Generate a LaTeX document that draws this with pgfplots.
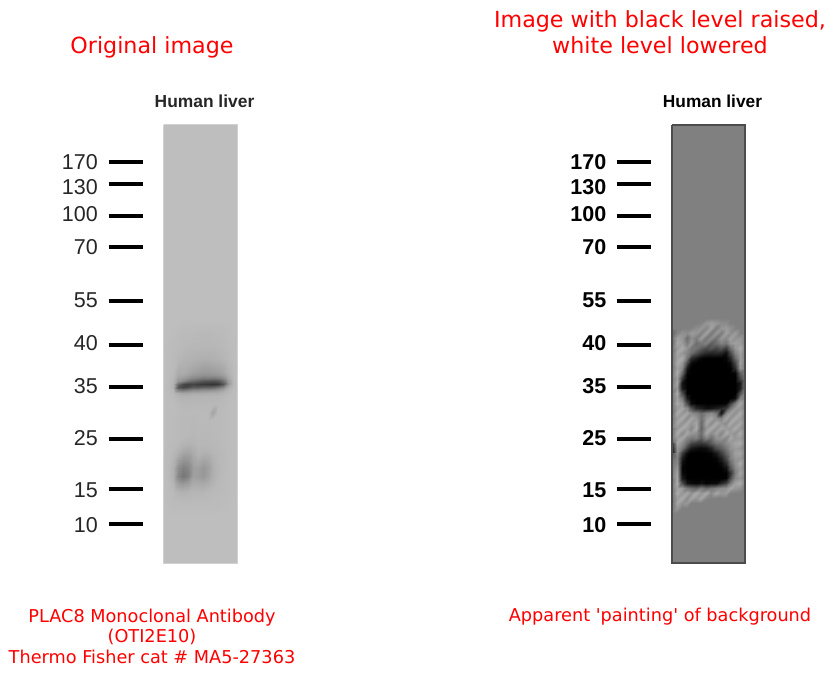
\documentclass[border=0pt]{standalone}
\usepackage{pgfplots}
\usepackage{pgfplotstable}
\pgfplotsset{compat=1.18}
\usepackage{fontspec}
\setmainfont{DejaVu Sans}
\newfontfamily\plainf{DejaVu Sans}
\newfontfamily\lab{Liberation Sans}
\definecolor{lanel}{HTML}{BEBEBE}
\definecolor{laner}{HTML}{808080}
\definecolor{treat}{HTML}{FF0000}
\pgfplotstableread{
y ly label
162 162 170
184 187 130
216 214 100
247 247 70
301 300 55
345 343 40
387 386 35
439 438 25
489 490 15
524 525 10
}\markers
\pgfplotstableread[row sep=crcr,header=false]{
190\\190\\190\\190\\190\\190\\190\\190\\190\\190\\190\\190\\190\\190\\190\\190\\
190\\190\\189\\187\\186\\186\\186\\185\\185\\184\\185\\186\\186\\188\\190\\190\\
189\\188\\187\\186\\185\\184\\183\\183\\183\\183\\183\\184\\185\\187\\189\\190\\
189\\188\\186\\183\\180\\178\\177\\176\\175\\175\\176\\178\\181\\185\\188\\190\\
189\\188\\185\\172\\172\\168\\162\\158\\155\\155\\157\\160\\166\\178\\186\\190\\
}\gridLa
\pgfplotstableread[row sep=crcr,header=false]{
189\\188\\185\\172\\172\\168\\162\\158\\155\\155\\157\\160\\166\\178\\186\\190\\
189\\188\\184\\168\\166\\160\\152\\148\\146\\145\\146\\150\\158\\174\\185\\190\\
189\\187\\183\\160\\155\\145\\135\\130\\122\\125\\122\\128\\140\\168\\184\\190\\
189\\187\\180\\150\\135\\115\\105\\95\\85\\82\\80\\85\\110\\155\\183\\190\\
189\\187\\178\\105\\75\\65\\68\\62\\58\\55\\52\\58\\85\\150\\183\\190\\
189\\187\\178\\85\\68\\75\\90\\88\\95\\95\\100\\112\\135\\170\\185\\190\\
189\\187\\182\\130\\120\\130\\140\\140\\145\\145\\150\\155\\165\\180\\187\\190\\
189\\188\\185\\172\\165\\165\\170\\170\\170\\172\\172\\174\\178\\184\\188\\190\\
189\\188\\187\\181\\178\\178\\180\\180\\180\\181\\181\\182\\184\\187\\189\\190\\
}\gridLb
\pgfplotstableread[row sep=crcr,header=false]{
189\\188\\187\\181\\178\\178\\180\\180\\180\\181\\181\\182\\184\\187\\189\\190\\
189\\188\\188\\186\\184\\184\\184\\184\\184\\184\\184\\185\\186\\188\\189\\190\\
189\\188\\188\\187\\186\\186\\186\\186\\186\\186\\165\\186\\187\\188\\189\\190\\
189\\188\\187\\186\\185\\185\\184\\186\\185\\185\\186\\186\\187\\188\\189\\190\\
189\\188\\187\\186\\185\\185\\184\\185\\185\\185\\186\\186\\187\\188\\189\\190\\
189\\188\\187\\186\\185\\184\\183\\185\\184\\184\\185\\186\\187\\188\\189\\190\\
189\\187\\186\\184\\180\\178\\180\\183\\183\\183\\184\\185\\187\\188\\189\\190\\
188\\187\\184\\176\\168\\165\\172\\180\\178\\178\\182\\184\\186\\188\\189\\190\\
189\\186\\180\\160\\148\\150\\165\\172\\165\\168\\178\\183\\186\\188\\189\\190\\
189\\186\\176\\142\\128\\135\\158\\160\\152\\160\\175\\182\\186\\188\\189\\190\\
189\\186\\176\\135\\118\\130\\160\\158\\152\\162\\176\\183\\186\\188\\189\\190\\
189\\187\\182\\160\\155\\160\\172\\172\\170\\174\\180\\185\\187\\188\\189\\190\\
189\\188\\186\\180\\178\\180\\182\\182\\182\\184\\185\\186\\187\\188\\189\\190\\
189\\188\\187\\186\\185\\185\\186\\186\\186\\186\\187\\187\\188\\189\\190\\190\\
190\\189\\188\\188\\188\\188\\188\\188\\188\\188\\188\\188\\189\\189\\190\\190\\
190\\190\\190\\190\\190\\190\\190\\190\\190\\190\\190\\190\\190\\190\\190\\190\\
}\gridLc
\pgfplotstableread[row sep=crcr,header=false]{
128\\128\\128\\128\\128\\128\\128\\128\\128\\128\\128\\128\\128\\128\\128\\128\\
128\\128\\128\\128\\128\\128\\132\\150\\158\\150\\140\\140\\128\\128\\128\\128\\
128\\128\\128\\128\\130\\140\\150\\135\\160\\125\\150\\155\\145\\130\\128\\128\\
105\\132\\145\\140\\155\\150\\130\\160\\120\\150\\125\\160\\140\\155\\130\\128\\
120\\158\\150\\110\\140\\125\\155\\120\\140\\115\\150\\135\\160\\145\\150\\128\\
110\\165\\155\\125\\150\\110\\120\\130\\95\\110\\130\\120\\150\\160\\155\\125\\
120\\155\\170\\145\\120\\115\\95\\75\\85\\70\\85\\60\\110\\150\\170\\130\\
115\\165\\150\\130\\110\\80\\55\\40\\35\\40\\35\\15\\70\\130\\160\\125\\
120\\160\\170\\115\\45\\25\\5\\0\\0\\0\\0\\5\\35\\105\\155\\130\\
125\\170\\150\\70\\10\\0\\0\\0\\0\\0\\0\\0\\10\\70\\160\\125\\
115\\160\\135\\25\\0\\0\\0\\0\\0\\0\\0\\0\\0\\45\\150\\130\\
120\\170\\105\\8\\0\\0\\0\\0\\0\\0\\0\\0\\0\\5\\95\\130\\
125\\155\\60\\0\\0\\0\\0\\0\\0\\0\\0\\0\\0\\0\\70\\125\\
120\\165\\20\\0\\0\\0\\0\\0\\0\\0\\0\\0\\0\\0\\25\\130\\
130\\150\\25\\0\\0\\0\\0\\0\\0\\0\\0\\0\\0\\0\\30\\125\\
115\\170\\75\\0\\0\\0\\0\\0\\0\\0\\0\\0\\0\\0\\80\\135\\
125\\160\\120\\25\\0\\0\\0\\0\\0\\0\\0\\0\\0\\15\\130\\125\\
120\\170\\150\\70\\10\\0\\0\\0\\0\\0\\0\\5\\55\\120\\165\\130\\
125\\155\\165\\135\\80\\40\\30\\15\\20\\30\\40\\60\\115\\155\\150\\125\\
115\\170\\150\\165\\140\\130\\110\\130\\140\\120\\20\\135\\160\\145\\170\\130\\
125\\155\\170\\140\\165\\150\\115\\150\\165\\140\\130\\165\\145\\170\\155\\125\\
120\\165\\145\\170\\150\\165\\105\\165\\140\\170\\150\\140\\170\\150\\165\\130\\
130\\150\\170\\155\\135\\170\\100\\150\\170\\145\\165\\155\\150\\170\\150\\125\\
115\\170\\140\\165\\150\\145\\110\\165\\140\\160\\135\\170\\155\\145\\170\\130\\
125\\155\\165\\130\\120\\125\\95\\130\\110\\145\\150\\135\\165\\150\\155\\125\\
100\\165\\140\\105\\70\\60\\55\\65\\90\\115\\120\\140\\150\\165\\170\\130\\
50\\150\\120\\60\\25\\15\\10\\15\\35\\75\\95\\120\\145\\155\\150\\125\\
15\\140\\60\\10\\0\\0\\0\\0\\5\\25\\60\\100\\130\\160\\165\\130\\
90\\130\\30\\0\\0\\0\\0\\0\\0\\5\\30\\75\\125\\150\\150\\125\\
120\\135\\15\\0\\0\\0\\0\\0\\0\\0\\10\\45\\105\\145\\170\\130\\
125\\150\\5\\0\\0\\0\\0\\0\\0\\0\\0\\15\\80\\135\\155\\125\\
120\\160\\10\\0\\0\\0\\0\\0\\0\\0\\0\\0\\45\\125\\165\\130\\
130\\165\\25\\0\\0\\0\\0\\0\\0\\0\\0\\5\\70\\135\\150\\125\\
115\\170\\75\\20\\10\\5\\15\\5\\10\\10\\40\\65\\120\\160\\170\\130\\
125\\160\\155\\120\\110\\100\\125\\105\\120\\130\\140\\145\\165\\150\\145\\125\\
120\\170\\150\\165\\145\\170\\150\\170\\140\\165\\150\\155\\130\\128\\128\\128\\
125\\155\\170\\140\\165\\150\\165\\135\\128\\128\\128\\128\\128\\128\\128\\128\\
115\\165\\145\\150\\128\\128\\128\\128\\128\\128\\128\\128\\128\\128\\128\\128\\
120\\150\\128\\128\\128\\128\\128\\128\\128\\128\\128\\128\\128\\128\\128\\128\\
128\\128\\128\\128\\128\\128\\128\\128\\128\\128\\128\\128\\128\\128\\128\\128\\
}\gridR
\newcommand{\lanegrid}[6]{%
\addplot[surf,shader=interp,mesh/cols=16,forget plot,point meta=explicit] table[x index=0,y index=0,x expr={#2+#3*mod(\coordindex,16)},y expr={#5+#6*floor(\coordindex/16)},meta index=0]{#1};
}
\begin{document}
\begin{tikzpicture}
\begin{axis}[
  scale only axis,width=834pt,height=674pt,
  xmin=0,xmax=834,ymin=0,ymax=674,y dir=reverse,
  hide axis,clip=false,
  colormap={grayscale}{gray(0cm)=(0);gray(1cm)=(1)},
  point meta min=0,point meta max=255,
]
\path (axis cs:0,0) rectangle (axis cs:834,674);
% left lane
\addplot[fill=lanel,draw=none,forget plot] coordinates {(163.5,124.5)(237.5,124.5)(237.5,563.5)(163.5,563.5)(163.5,124.5)};
\lanegrid{\gridLa}{163.5}{4.933}{237.5}{320}{13}
\lanegrid{\gridLb}{163.5}{4.933}{237.5}{372}{3}
\lanegrid{\gridLc}{163.5}{4.933}{237.5}{396}{8}
\addplot[draw=lanel!70!white,line width=1pt,forget plot] coordinates {(163.5,124.5)(237.5,124.5)(237.5,563.5)(163.5,563.5)(163.5,124.5)};
% right lane
\addplot[fill=laner,draw=none,forget plot] coordinates {(672,125)(745,125)(745,563)(672,563)(672,125)};
\lanegrid{\gridR}{672}{4.867}{745}{318}{5}
\addplot[draw=black!70,line width=1.1pt,forget plot] coordinates {(672,125)(745,125)(745,563)(672,563)(672,125)};
% ladders
\pgfplotstableforeachcolumnelement{y}\of\markers\as\yy{%
  \edef\tmp{\noexpand\addplot[black,line width=3.3pt,forget plot] coordinates {(108.5,\yy)(143,\yy)};
  \noexpand\addplot[black,line width=3.7pt,forget plot] coordinates {(616.5,\yy)(651,\yy)};}\tmp}
\pgfplotsinvokeforeach{0,...,9}{%
  \pgfplotstablegetelem{#1}{label}\of\markers \edef\lb{\pgfplotsretval}%
  \pgfplotstablegetelem{#1}{ly}\of\markers \edef\py{\pgfplotsretval}%
  \edef\tmp{\noexpand\node[anchor=east,inner sep=0pt,text=black!85,font=\noexpand\lab\noexpand\fontsize{21.5}{21.5}\noexpand\selectfont] at (axis cs:98,\py) {\lb};
  \noexpand\node[anchor=east,inner sep=0pt,font=\noexpand\lab\noexpand\bfseries\noexpand\fontsize{21.5}{21.5}\noexpand\selectfont] at (axis cs:606.5,\py) {\lb};}\tmp}
\node[inner sep=0pt,text=black!85,font=\lab\bfseries\fontsize{17.4}{17.4}\selectfont] at (axis cs:204.5,101) {Human liver};
\node[inner sep=0pt,font=\lab\bfseries\fontsize{17.3}{17.3}\selectfont] at (axis cs:712.5,101) {Human liver};
\node[inner sep=0pt,text=treat,font=\fontsize{22.2}{22.2}\selectfont] at (axis cs:152,47) {Original image};
\node[inner sep=0pt,text=treat,align=center,font=\fontsize{22.2}{26}\selectfont] at (axis cs:660,32) {Image with black level raised,\\white level lowered};
\node[inner sep=0pt,text=treat,align=center,font=\fontsize{17.7}{20.5}\selectfont] at (axis cs:152,636) {PLAC8 Monoclonal Antibody\\(OTI2E10)\\Thermo Fisher cat \# MA5-27363};
\node[inner sep=0pt,text=treat,font=\fontsize{17.7}{20.5}\selectfont] at (axis cs:660,616.5) {Apparent {\plainf'}painting{\plainf'} of background};
\end{axis}
\end{tikzpicture}
\end{document}
